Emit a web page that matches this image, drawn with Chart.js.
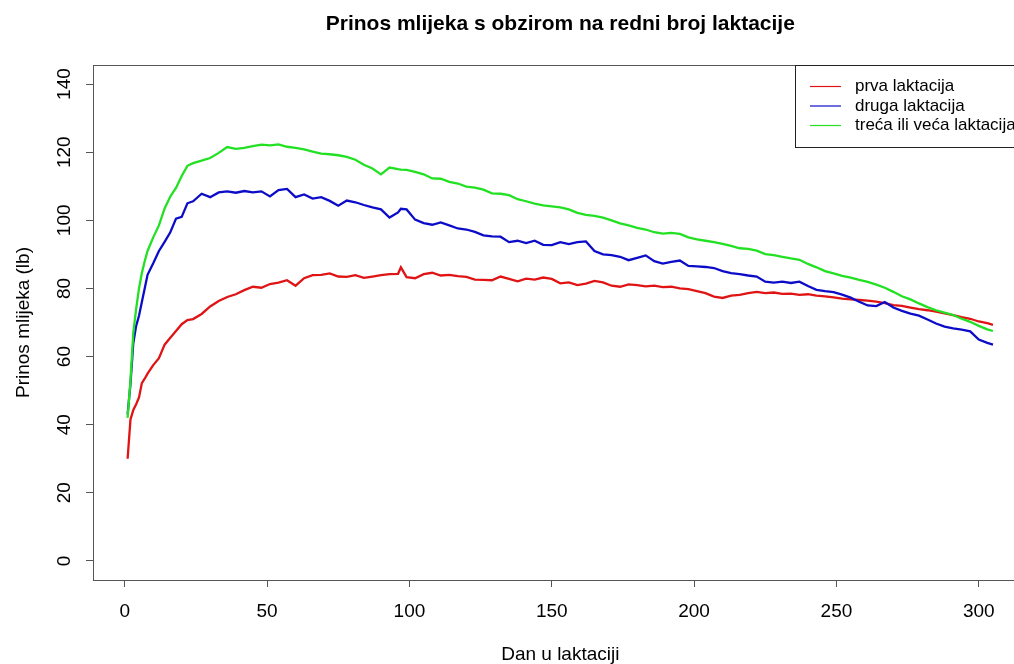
<!DOCTYPE html>
<html>
<head>
<meta charset="utf-8">
<title>Prinos mlijeka</title>
<script src="https://cdn.jsdelivr.net/npm/chart.js@4"></script>
<style>
  html, body { margin: 0; padding: 0; background: #fff; overflow: hidden; }
  canvas { display: block; }
</style>
</head>
<body>
<canvas id="milkChart" width="1040" height="664"></canvas>
<script>
// Days in lactation (x values)
const days = [
  1, 2, 3, 4, 5, 6, 7, 8, 10, 12,
  14, 16, 18, 20, 22, 24, 27, 30, 33, 36,
  39, 42, 45, 48, 51, 54, 57, 60, 63, 66,
  69, 72, 75, 78, 81, 84, 87, 90, 93, 96,
  97, 99, 102, 105, 108, 111, 114, 117, 120, 123,
  126, 129, 132, 135, 138, 141, 144, 147, 150, 153,
  156, 159, 162, 165, 168, 171, 174, 177, 180, 183,
  186, 189, 192, 195, 198, 201, 204, 207, 210, 213,
  216, 219, 222, 225, 228, 231, 234, 237, 240, 243,
  246, 249, 252, 255, 258, 261, 264, 267, 270, 273,
  276, 279, 282, 285, 288, 291, 294, 297, 300, 303, 305,
];

// prva laktacija
const firstLactation = [
  30, 41.5, 44.3, 46, 48, 52.2, 53.5, 55, 57.5, 59.5,
  63.5, 65.5, 67.5, 69.5, 70.7, 71, 72.5, 74.7, 76.3, 77.5,
  78.3, 79.5, 80.5, 80.2, 81.3, 81.7, 82.4, 80.8, 83, 83.9,
  84, 84.4, 83.5, 83.4, 83.9, 83.1, 83.5, 83.9, 84.2, 84.3,
  86.2, 83.3, 83, 84.2, 84.6, 83.8, 84, 83.6, 83.4, 82.6,
  82.5, 82.4, 83.5, 82.8, 82.1, 82.9, 82.6, 83.2, 82.8, 81.5,
  81.8, 81, 81.4, 82.2, 81.8, 80.8, 80.5, 81.2, 81, 80.6,
  80.8, 80.4, 80.5, 80, 79.8, 79.2, 78.6, 77.6, 77.2, 77.9,
  78.1, 78.6, 79, 78.6, 78.8, 78.4, 78.5, 78.1, 78.3, 77.9,
  77.7, 77.4, 77, 76.8, 76.6, 76.4, 76.1, 75.7, 75.1, 74.9,
  74.4, 73.9, 73.6, 73.2, 72.7, 72.2, 71.6, 71.1, 70.3, 69.8, 69.3,
];

// druga laktacija
const secondLactation = [
  43, 52, 64, 69, 72, 76, 80, 84, 87.4, 91,
  93.7, 96.5, 100.5, 101, 105, 105.6, 107.8, 106.8, 108.2, 108.5,
  108.1, 108.6, 108.2, 108.5, 107, 108.9, 109.2, 106.8, 107.6, 106.4,
  106.8, 105.7, 104.3, 105.8, 105.3, 104.5, 103.8, 103.2, 100.8, 102.3,
  103.4, 103.2, 100.2, 99.2, 98.7, 99.4, 98.5, 97.6, 97.3, 96.6,
  95.6, 95.3, 95.2, 93.6, 94, 93.3, 94, 92.8, 92.7, 93.6,
  93, 93.6, 93.8, 91, 90, 89.8, 89.3, 88.3, 89, 89.7,
  88, 87.3, 87.8, 88.2, 86.6, 86.5, 86.3, 86, 85.1, 84.5,
  84.2, 83.8, 83.5, 82, 81.7, 82, 81.6, 82, 80.7, 79.6,
  79.2, 78.9, 78.2, 77.3, 76.1, 75, 74.8, 76, 74.4, 73.4,
  72.6, 72, 70.9, 69.7, 68.8, 68.3, 67.9, 67.4, 65, 64, 63.5,
];

// treća ili veća laktacija
const thirdLactation = [
  42, 53, 67, 74, 80, 84.5, 88, 91, 95, 98.5,
  103.5, 107, 109.5, 113, 116, 116.8, 117.5, 118.3, 119.8, 121.5,
  121, 121.3, 121.8, 122.2, 122, 122.3, 121.6, 121.3, 120.8, 120.2,
  119.6, 119.4, 119.1, 118.6, 117.8, 116.3, 115.2, 113.5, 115.5, 115,
  114.9, 114.8, 114.2, 113.5, 112.3, 112.2, 111.3, 110.8, 109.9, 109.6,
  109, 107.9, 107.8, 107.4, 106.2, 105.6, 104.9, 104.4, 104.1, 103.8,
  103.2, 102.2, 101.6, 101.3, 100.8, 100, 99.1, 98.5, 97.8, 97.3,
  96.5, 96.1, 96.3, 96, 95, 94.4, 94, 93.6, 93.1, 92.5,
  91.8, 91.6, 91.1, 90.1, 89.8, 89.3, 88.8, 88.4, 87.2, 86.2,
  85.1, 84.4, 83.7, 83.2, 82.5, 81.9, 81.1, 80.2, 79, 77.7,
  76.8, 75.6, 74.5, 73.6, 72.9, 72.2, 71.1, 70.2, 69, 68, 67.5,
];

const seriesLabels = ["prva laktacija", "druga laktacija", "treća ili veća laktacija"];
const seriesColors = ["#e01414", "#0c0cc8", "#22e022"];
const xTicks = [0, 50, 100, 150, 200, 250, 300];
const yTicks = [0, 20, 40, 60, 80, 100, 120, 140];

const chartTitle = "Prinos mlijeka s obzirom na redni broj laktacije";
const xTitle = "Dan u laktaciji";
const yTitle = "Prinos mlijeka (lb)";

const FONT = "'Liberation Sans', Arial, sans-serif";
const AXIS_COLOR = "#555";

const toPoints = (vals) => vals.map((v, i) => ({ x: days[i], y: v }));

// Draws box, titles, tick labels and legend like base R graphics
const rStylePlugin = {
  id: "rStyle",
  afterDraw(chart) {
    const { ctx, chartArea: a, scales } = chart;
    const midX = (a.left + a.right) / 2;
    ctx.save();

    // plot box
    ctx.strokeStyle = AXIS_COLOR;
    ctx.lineWidth = 1;
    ctx.strokeRect(a.left + 0.5, a.top + 0.5, a.right - a.left, a.bottom - a.top);

    ctx.fillStyle = "#000";
    ctx.font = "19px " + FONT;
    ctx.textAlign = "center";
    ctx.textBaseline = "alphabetic";

    // x tick labels
    xTicks.forEach((t) => {
      ctx.fillText(String(t), scales.x.getPixelForValue(t), 617);
    });

    // y tick labels, rotated
    yTicks.forEach((t) => {
      const y = scales.y.getPixelForValue(t);
      ctx.save();
      ctx.translate(70, y);
      ctx.rotate(-Math.PI / 2);
      ctx.fillText(String(t), 0, 0);
      ctx.restore();
    });

    // axis titles
    ctx.fillText(xTitle, midX, 660);
    ctx.save();
    ctx.translate(29, (a.top + a.bottom) / 2);
    ctx.rotate(-Math.PI / 2);
    ctx.fillText(yTitle, 0, 0);
    ctx.restore();

    // title
    ctx.font = "bold 21px " + FONT;
    ctx.fillText(chartTitle, midX, 30);

    // legend box (top right of plot)
    const lx = 795;
    const ly = a.top;
    ctx.fillStyle = "#fff";
    ctx.fillRect(lx, ly, a.right - lx, 82);
    ctx.strokeStyle = "#222";
    ctx.strokeRect(lx + 0.5, ly + 0.5, a.right - lx, 82);
    ctx.font = "17px " + FONT;
    ctx.textAlign = "left";
    ctx.textBaseline = "middle";
    seriesLabels.forEach((label, i) => {
      const rowY = ly + 21.5 + i * 19.5;
      ctx.strokeStyle = seriesColors[i];
      ctx.lineWidth = 1.2;
      ctx.beginPath();
      ctx.moveTo(810, rowY);
      ctx.lineTo(841, rowY);
      ctx.stroke();
      ctx.fillStyle = "#000";
      ctx.fillText(label, 855, rowY);
    });

    ctx.restore();
  },
};

const datasetsData = [firstLactation, secondLactation, thirdLactation];

new Chart(document.getElementById("milkChart"), {
  type: "line",
  data: {
    datasets: datasetsData.map((vals, i) => ({
      label: seriesLabels[i],
      data: toPoints(vals),
      borderColor: seriesColors[i],
      borderWidth: 2.3,
      pointRadius: 0,
      tension: 0,
      fill: false,
      order: 2 - i,
    })),
  },
  options: {
    responsive: false,
    animation: false,
    events: [],
    layout: { padding: { top: 65, right: 12.4, left: 0, bottom: 0 } },
    plugins: {
      legend: { display: false },
      title: { display: false },
      tooltip: { enabled: false },
    },
    scales: {
      x: {
        type: "linear",
        min: -11.16,
        max: 317.16,
        afterBuildTicks: (scale) => {
          scale.ticks = xTicks.map((v) => ({ value: v }));
        },
        afterFit: (scale) => {
          scale.height = 84;
        },
        grid: {
          drawOnChartArea: false,
          drawTicks: true,
          tickLength: 7,
          color: AXIS_COLOR,
        },
        border: { display: false },
        ticks: { display: false },
      },
      y: {
        type: "linear",
        min: -5.6,
        max: 145.6,
        afterBuildTicks: (scale) => {
          scale.ticks = yTicks.map((v) => ({ value: v }));
        },
        afterFit: (scale) => {
          scale.width = 93;
        },
        grid: {
          drawOnChartArea: false,
          drawTicks: true,
          tickLength: 7,
          color: AXIS_COLOR,
        },
        border: { display: false },
        ticks: { display: false },
      },
    },
  },
  plugins: [rStylePlugin],
});
</script>
</body>
</html>
